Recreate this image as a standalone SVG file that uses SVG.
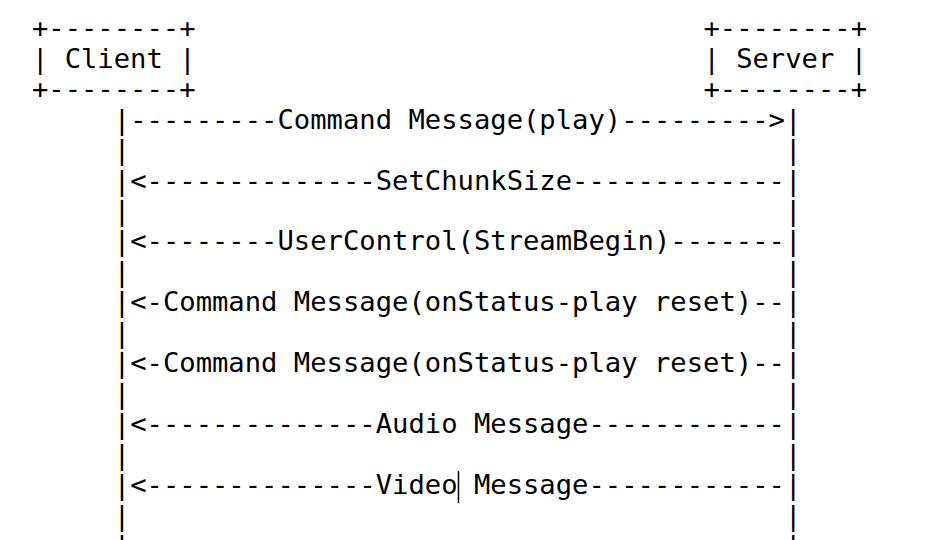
<svg xmlns="http://www.w3.org/2000/svg" width="926" height="540" viewBox="0 0 926 540" xml:space="preserve">
  <style>
    text { font-family: "DejaVu Sans Mono", "Liberation Mono", monospace; font-size: 27.2px; fill: #000; white-space: pre; }
    .cursor { stroke: #000; stroke-width: 1.5; }
  </style>
  <rect x="0" y="0" width="926" height="540" fill="#fff"/>
  <g id="client">
    <text x="31.9" y="37.2">+--------+</text>
    <text x="31.9" y="67.7">| Client |</text>
    <text x="31.9" y="98.1">+--------+</text>
  </g>
  <g id="server">
    <text x="703.4" y="37.2">+--------+</text>
    <text x="703.4" y="67.7">| Server |</text>
    <text x="703.4" y="98.1">+--------+</text>
  </g>
  <g id="connectors">
    <text x="113.8" y="128.6">|---------Command Message(play)---------&gt;|</text>
    <text x="113.8" y="159.1">|                                        |</text>
    <text x="113.8" y="189.5">|&lt;--------------SetChunkSize-------------|</text>
    <text x="113.8" y="220.0">|                                        |</text>
    <text x="113.8" y="250.4">|&lt;--------UserControl(StreamBegin)-------|</text>
    <text x="113.8" y="280.9">|                                        |</text>
    <text x="113.8" y="311.4">|&lt;-Command Message(onStatus-play reset)--|</text>
    <text x="113.8" y="341.8">|                                        |</text>
    <text x="113.8" y="372.3">|&lt;-Command Message(onStatus-play reset)--|</text>
    <text x="113.8" y="402.7">|                                        |</text>
    <text x="113.8" y="433.2">|&lt;--------------Audio Message------------|</text>
    <text x="113.8" y="463.7">|                                        |</text>
    <text x="113.8" y="494.1">|&lt;--------------Video Message------------|</text>
    <text x="113.8" y="524.6">|                                        |</text>
    <text x="113.8" y="555.0">|                                        |</text>
  </g>
  <line class="cursor" x1="458.5" y1="471" x2="458.5" y2="503"/>
</svg>
